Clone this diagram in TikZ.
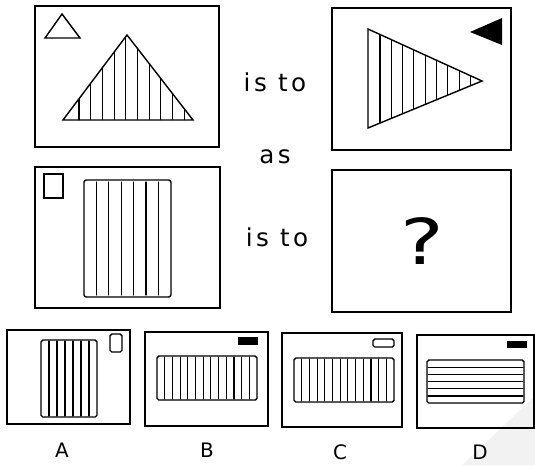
\documentclass[tikz,border=0pt]{standalone}
\usepackage{fontspec}
\setmainfont{DejaVu Sans}
\usepackage{tikz}
\usetikzlibrary{positioning, calc}

\begin{document}
\begin{tikzpicture}[
    x=0.03cm, y=-0.03cm,
    panel/.style={draw, line width=1.5pt},
    shapeline/.style={draw, line width=1.2pt},
    hatch/.style={line width=0.9pt, line cap=round},
    word/.style={font=\fontsize{21}{21}\selectfont\addfontfeatures{LetterSpace=14}},
    optlabel/.style={font=\fontsize{17}{17}\selectfont}
]
    \useasboundingbox (0,0) rectangle (535,465);

    % faint scan shading (bottom right)
    \fill[black!5] (462,465) -- (535,396) -- (535,465) -- cycle;

    % ================= TOP ROW =================
    \draw[panel] (35,6) rectangle (219,147);
    \draw[shapeline] (45,38) -- (62,14) -- (80,38) -- cycle;
    \begin{scope}
        \clip (63,120) -- (127,35) -- (193,120) -- cycle;
        \foreach \x in {79,90.7,...,186} \draw[hatch] (\x,30) -- (\x,125);
    \end{scope}
    \draw[shapeline] (63,120) -- (127,35) -- (193,120) -- cycle;

    \draw[panel] (332,8) rectangle (511,150);
    \fill (470,32) -- (502,18) -- (502,45) -- cycle;
    \begin{scope}
        \clip (368,29) -- (482,81) -- (368,128) -- cycle;
        \foreach \x in {380,391.3,...,475} \draw[hatch] (\x,25) -- (\x,132);
    \end{scope}
    \draw[shapeline] (368,29) -- (482,81) -- (368,128) -- cycle;

    % ================= MIDDLE ROW =================
    \draw[panel] (35,167) rectangle (220,308);
    \draw[shapeline] (44,174) rectangle (63,198);
    \draw[shapeline, rounded corners=2pt] (84,180) rectangle (171,297);
    \foreach \x in {96.4,108.8,...,160} \draw[hatch] (\x,182) -- (\x,295);

    \draw[panel] (332,170) rectangle (511,312);
    \node[font=\fontsize{54}{54}\selectfont, xscale=1.3] (qmark) at (422,241) {?};

    % ================= TEXTS =================
    \node[word] (isto1) at (275,82) {is to};
    \node[word] (as) at (275,157) {as};
    \node[word] (isto2) at (277,237) {is to};

    % ================= OPTIONS =================
    % A
    \draw[panel] (7,330) rectangle (130,424);
    \draw[shapeline, rounded corners=1.5pt] (110,334) rectangle (122,352);
    \draw[shapeline, rounded corners=1.5pt] (41,340) rectangle (97,417);
    \foreach \x in {49,57,...,90} \draw[hatch] (\x,341) -- (\x,416);

    % B
    \draw[panel] (145,332) rectangle (268,426);
    \fill (238,337) rectangle (258,345);
    \draw[shapeline, rounded corners=1.5pt] (157,356) rectangle (257,400);
    \foreach \x in {164.7,172.4,...,250} \draw[hatch] (\x,357) -- (\x,399);

    % C
    \draw[panel] (282,333) rectangle (402,427);
    \draw[shapeline, rounded corners=1.5pt] (373,339) rectangle (394,347);
    \draw[shapeline, rounded corners=1.5pt] (294,358) rectangle (394,402);
    \foreach \x in {301.7,309.4,...,387} \draw[hatch] (\x,359) -- (\x,401);

    % D
    \draw[panel] (417,335) rectangle (534,428);
    \fill (507,341) rectangle (527,348);
    \draw[shapeline, rounded corners=1.5pt] (427,360) rectangle (524,403);
    \foreach \y in {367.2,374.4,...,396} \draw[hatch] (428,\y) -- (523,\y);

    \node[optlabel] (labA) at (62,450) {A};
    \node[optlabel] (labB) at (207,450) {B};
    \node[optlabel] (labC) at (340,452) {C};
    \node[optlabel] (labD) at (480,452) {D};
\end{tikzpicture}
\end{document}
